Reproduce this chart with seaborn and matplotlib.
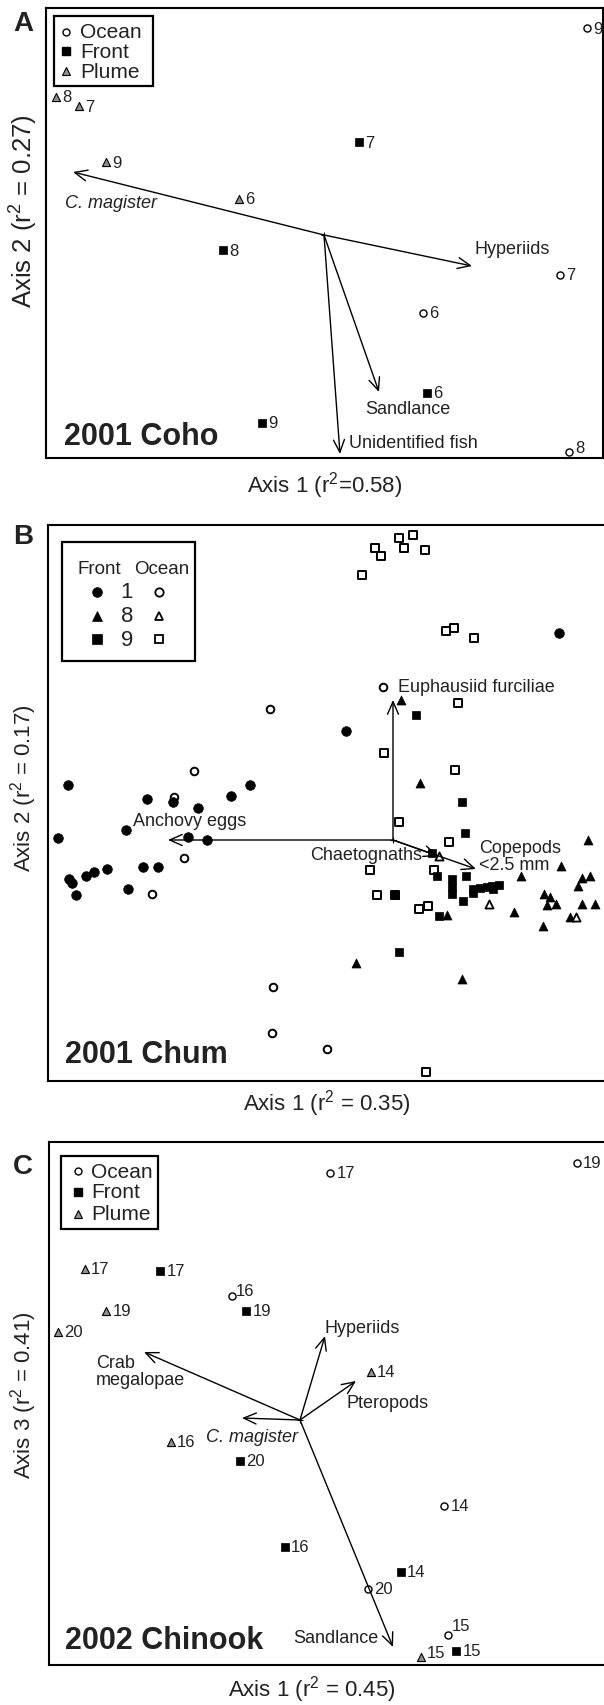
import matplotlib
matplotlib.use('Agg')
import matplotlib.pyplot as plt
import seaborn as sns
import pandas as pd
from matplotlib.patches import Rectangle
from matplotlib.lines import Line2D

sns.set_theme(style='white')
plt.rcParams['font.family'] = ['Liberation Sans', 'DejaVu Sans']
plt.rcParams['mathtext.fontset'] = 'custom'
plt.rcParams['mathtext.rm'] = 'Liberation Sans'
plt.rcParams['mathtext.it'] = 'Liberation Sans:italic'

# ---------------- Panel A : 2001 Coho (ordination scores) ----------------
a_ocean_id = ['9', '7', '6', '8']
a_ocean_x = [541, 514, 377, 523]
a_ocean_y = [430, 183, 145, 6]
a_front_id = ['7', '8', '6', '9']
a_front_x = [313, 177, 381, 216]
a_front_y = [316, 208, 65, 35]
a_plume_id = ['8', '7', '9', '6']
a_plume_x = [10, 33, 60, 193]
a_plume_y = [361, 352, 296, 259]
a_vec_names = ['C. magister', 'Hyperiids', 'Sandlance', 'Unidentified fish']
a_vec_x = [27, 426, 333, 294]
a_vec_y = [286, 192, 66, 4]
a_origin = (278, 223)

# ---------------- Panel B : 2001 Chum ----------------
b_front1_x = [511, 298, 20, 202, 183, 99, 125, 150, 78, 10, 140, 159, 21, 24, 28, 38, 46, 59, 95, 110, 80]
b_front1_y = [448, 350, 296, 296, 285, 282, 279, 273, 251, 243, 244, 241, 202, 198, 186, 205, 209, 212, 214, 214, 192]
b_ocean1_x = [335, 222, 146, 126, 136, 104, 225, 224, 279]
b_ocean1_y = [394, 372, 310, 284, 223, 187, 94, 48, 32]
b_front8_x = [353, 372, 540, 513, 473, 534, 542, 530, 496, 502, 499, 508, 534, 547, 466, 399, 495, 522, 308, 414]
b_front8_y = [381, 298, 241, 215, 205, 203, 205, 195, 187, 184, 176, 177, 177, 177, 169, 166, 155, 164, 118, 102]
b_ocean8_x = [391, 441, 528]
b_ocean8_y = [225, 177, 164]
b_front9_x = [368, 414, 417, 384, 389, 418, 404, 404, 404, 425, 432, 439, 445, 451, 444, 425, 415, 347, 391, 351]
b_front9_y = [366, 279, 248, 228, 205, 205, 202, 194, 187, 192, 193, 194, 192, 196, 195, 188, 180, 186, 165, 129]
b_ocean9_x = [327, 333, 351, 365, 356, 377, 314, 398, 406, 426, 410, 336, 407, 351, 401, 322, 386, 329, 347, 371, 380, 378]
b_ocean9_y = [533, 525, 543, 546, 533, 531, 506, 450, 453, 443, 378, 328, 311, 259, 239, 211, 211, 186, 186, 172, 175, 9]
b_vec_names = ['Euphausiid furciliae', 'Anchovy eggs', 'Copepods\n<2.5 mm', 'Chaetognaths']
b_vec_x = [345, 120, 428, 390]
b_vec_y = [381, 241, 212, 225]
b_origin = (345, 241)

# ---------------- Panel C : 2002 Chinook ----------------
c_ocean_id = ['17', '19', '16', '14', '20', '15']
c_ocean_x = [281, 528, 183, 395, 319, 399]
c_ocean_y = [492, 502, 369, 159, 76, 30]
c_front_id = ['17', '19', '20', '16', '14', '15']
c_front_x = [111, 197, 191, 236, 352, 407]
c_front_y = [394, 354, 204, 118, 93, 14]
c_plume_id = ['17', '19', '20', '14', '16', '15']
c_plume_x = [36, 57, 9, 322, 122, 372]
c_plume_y = [396, 354, 333, 293, 223, 8]
c_vec_names = ['Hyperiids', 'Crab\nmegalopae', 'Pteropods', 'C. magister', 'Sandlance']
c_vec_x = [276, 95, 307, 193, 344]
c_vec_y = [329, 313, 284, 247, 18]
c_origin = (251, 245)

# ---------------- layout helpers ----------------
W, H = 604, 1706
fig = plt.figure(figsize=(W / 100, H / 100), dpi=100)
fig.patch.set_facecolor('white')

GRAY = '#8f8f8f'
INK = '#222222'


def fx(x):
    return x / W


def fy(y):
    return 1 - y / H


def add_panel(left, top, right, bottom):
    ax = fig.add_axes([fx(left), fy(bottom), (right - left) / W, (bottom - top) / H])
    ax.set_xlim(0, right - left)
    ax.set_ylim(0, bottom - top)
    ax.set_xticks([])
    ax.set_yticks([])
    for s in ax.spines.values():
        s.set_color('black')
        s.set_linewidth(1.5)
        s.set_visible(True)
    ax.set_facecolor('white')
    return ax


def pts(ax, xs, ys, marker, size, fc, ec, lw=1.0, z=3):
    df = pd.DataFrame({'x': xs, 'y': ys})
    sns.scatterplot(data=df, x='x', y='y', marker=marker, s=size, color=fc,
                    edgecolor=ec, linewidth=lw, ax=ax, zorder=z, legend=False)
    ax.set_xlabel('')
    ax.set_ylabel('')


def nums(ax, xs, ys, ids, nudge=None, fs=12):
    nudge = nudge or {}
    for x, y, t in zip(xs, ys, ids):
        dx, dy = nudge.get(t, (4.5, 0))
        ax.annotate(t, (x, y), xytext=(dx, dy), textcoords='offset points',
                    ha='left', va='center', fontsize=fs, color=INK)


def arrows(ax, origin, xs, ys):
    for x, y in zip(xs, ys):
        ax.annotate('', xy=(x, y), xytext=origin,
                    arrowprops=dict(arrowstyle='->,head_length=0.5,head_width=0.22',
                                    mutation_scale=18, lw=1.0, color='black',
                                    shrinkA=0, shrinkB=0), zorder=4)
    ax.plot([origin[0]], [origin[1]], marker='+', ms=4, mew=0.8, color='black', zorder=5)


def legend_box(x0, y0, x1, y1):
    fig.add_artist(Rectangle((fx(x0), fy(y1)), (x1 - x0) / W, (y1 - y0) / H,
                             transform=fig.transFigure, fill=True, fc='white',
                             ec='black', lw=1.6, zorder=10))


def legend_marker(x, y, marker, ms, fc, ec, mew=1.0):
    fig.add_artist(Line2D([fx(x)], [fy(y)], marker=marker, ms=ms, mfc=fc, mec=ec,
                          mew=mew, ls='none', transform=fig.transFigure, zorder=11))


def legend_text(x, y, s, fs, ha='left'):
    fig.text(fx(x), fy(y), s, ha=ha, va='center', fontsize=fs, color=INK, zorder=11)


def ocean_plume_front_legend(x0, y0, x1, y1, rows_y, mx, tx):
    legend_box(x0, y0, x1, y1)
    legend_marker(mx, rows_y[0], 'o', 5, 'white', 'black', 1.0)
    legend_marker(mx, rows_y[1], 's', 5.5, 'black', 'black')
    legend_marker(mx, rows_y[2], '^', 6, GRAY, 'black', 0.8)
    for ry, lab in zip(rows_y, ['Ocean', 'Front', 'Plume']):
        legend_text(tx, ry, lab, 15)


# ================= Panel A =================
axA = add_panel(46, 9, 603, 459)
arrows(axA, a_origin, a_vec_x, a_vec_y)
pts(axA, a_ocean_x, a_ocean_y, 'o', 26, 'white', 'black', 1.0)
pts(axA, a_front_x, a_front_y, 's', 30, 'black', 'black', 0.5)
pts(axA, a_plume_x, a_plume_y, '^', 34, GRAY, 'black', 0.8)
nums(axA, a_ocean_x, a_ocean_y, a_ocean_id, nudge={'8': (4.5, 3)})
nums(axA, a_front_x, a_front_y, a_front_id)
nums(axA, a_plume_x, a_plume_y, a_plume_id)
a_lab_pos = [(19, 256, 'left'), (428, 210, 'left'), (319, 50, 'left'), (303, 15, 'left')]
for name, (lx, ly, ha) in zip(a_vec_names, a_lab_pos):
    axA.text(lx, ly, name, ha=ha, va='center', fontsize=13, color=INK,
             style='italic' if name.startswith('C.') else 'normal')
axA.text(18, 22, '2001 Coho', ha='left', va='center', fontsize=22, fontweight='bold', color=INK)
ocean_plume_front_legend(54, 17, 153, 87, [33, 52, 72], 66, 80)
fig.text(fx(23), fy(24), 'A', ha='center', va='center', fontsize=20, fontweight='bold', color=INK)
fig.text(fx(325), fy(486), r'Axis 1 ($\mathregular{r^2}$=0.58)', ha='center', va='center', fontsize=16, color=INK)
fig.text(fx(24), fy(211), r'Axis 2 ($\mathregular{r^2}$ = 0.27)', ha='center', va='center', rotation=90, fontsize=18.5, color=INK)

# ================= Panel B =================
axB = add_panel(48, 526, 606, 1082)
arrows(axB, b_origin, b_vec_x, b_vec_y)
pts(axB, b_ocean9_x, b_ocean9_y, 's', 36, 'white', 'black', 1.4)
pts(axB, b_ocean1_x, b_ocean1_y, 'o', 30, 'white', 'black', 1.4)
pts(axB, b_front1_x, b_front1_y, 'o', 48, 'black', 'black', 0.5)
pts(axB, b_front9_x, b_front9_y, 's', 40, 'black', 'black', 0.5)
pts(axB, b_front8_x, b_front8_y, '^', 42, 'black', 'black', 0.5)
pts(axB, b_ocean8_x, b_ocean8_y, '^', 34, 'white', 'black', 1.3)
b_lab_pos = [(350, 394, 'left', 'center'), (142, 260, 'center', 'center'),
             (431, 225, 'left', 'center'), (374, 226, 'right', 'center')]
for name, (lx, ly, ha, va) in zip(b_vec_names, b_lab_pos):
    axB.text(lx, ly, name, ha=ha, va=va, fontsize=13, color=INK, linespacing=0.95)
axB.text(17, 27, '2001 Chum', ha='left', va='center', fontsize=22, fontweight='bold', color=INK)
legend_box(62, 543, 195, 662)
legend_text(77, 570, 'Front', 13.5)
legend_text(134, 570, 'Ocean', 13.5)
for ry, lab, mk in zip([593, 617, 640], ['1', '8', '9'], ['o', '^', 's']):
    legend_marker(97, ry, mk, 7 if mk == 'o' else 6.5, 'black', 'black', 0.5)
    legend_marker(159, ry, mk, 6, 'white', 'black', 1.3)
    legend_text(127, ry, lab, 16, ha='center')
fig.text(fx(23), fy(537), 'B', ha='center', va='center', fontsize=20, fontweight='bold', color=INK)
fig.text(fx(327), fy(1104), r'Axis 1 ($\mathregular{r^2}$ = 0.35)', ha='center', va='center', fontsize=16, color=INK)
fig.text(fx(24), fy(788), r'Axis 2 ($\mathregular{r^2}$ = 0.17)', ha='center', va='center', rotation=90, fontsize=16, color=INK)

# ================= Panel C =================
axC = add_panel(49, 1143, 606, 1666)
arrows(axC, c_origin, c_vec_x, c_vec_y)
pts(axC, c_ocean_x, c_ocean_y, 'o', 26, 'white', 'black', 1.0)
pts(axC, c_front_x, c_front_y, 's', 30, 'black', 'black', 0.5)
pts(axC, c_plume_x, c_plume_y, '^', 34, GRAY, 'black', 0.8)
nums(axC, c_ocean_x, c_ocean_y, c_ocean_id, nudge={'16': (2.5, 4), '15': (3, 7)})
nums(axC, c_front_x, c_front_y, c_front_id)
nums(axC, c_plume_x, c_plume_y, c_plume_id, nudge={'15': (4, 3)})
c_lab_pos = [(276, 337, 'left'), (47, 294, 'left'), (298, 262, 'left'), (157, 228, 'left'), (329, 27, 'right')]
for name, (lx, ly, ha) in zip(c_vec_names, c_lab_pos):
    axC.text(lx, ly, name, ha=ha, va='center', fontsize=13, color=INK, linespacing=1.0,
             style='italic' if name.startswith('C.') else 'normal')
axC.text(16, 25, '2002 Chinook', ha='left', va='center', fontsize=22, fontweight='bold', color=INK)
ocean_plume_front_legend(61, 1157, 158, 1230, [1172, 1193, 1215], 78, 91)
fig.text(fx(23), fy(1167), 'C', ha='center', va='center', fontsize=20, fontweight='bold', color=INK)
fig.text(fx(312), fy(1690), r'Axis 1 ($\mathregular{r^2}$ = 0.45)', ha='center', va='center', fontsize=16, color=INK)
fig.text(fx(24), fy(1395), r'Axis 3 ($\mathregular{r^2}$ = 0.41)', ha='center', va='center', rotation=90, fontsize=16, color=INK)

fig.savefig('out.png', dpi=100, facecolor='white')
